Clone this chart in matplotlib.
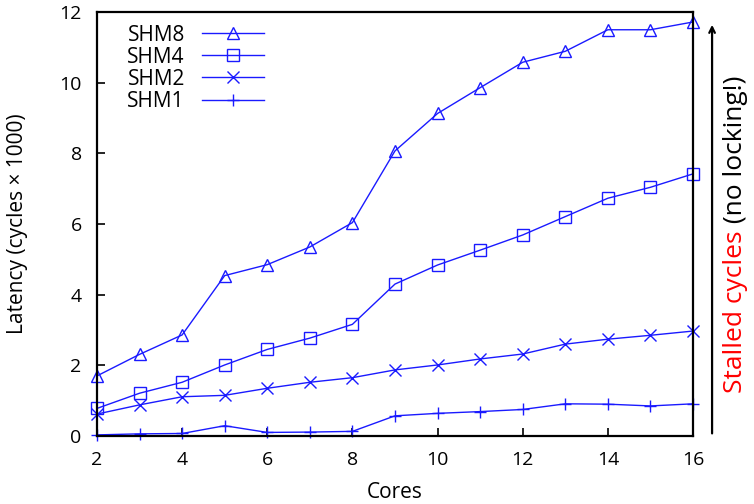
import matplotlib
matplotlib.use('Agg')
import matplotlib.pyplot as plt

plt.rcParams['font.family'] = ['Open Sans', 'DejaVu Sans']

# Data
cores = [2, 3, 4, 5, 6, 7, 8, 9, 10, 11, 12, 13, 14, 15, 16]
shm8 = [1.70, 2.31, 2.86, 4.54, 4.85, 5.35, 6.04, 8.07, 9.13, 9.86, 10.58, 10.89, 11.50, 11.50, 11.72]
shm4 = [0.78, 1.21, 1.52, 2.01, 2.45, 2.77, 3.16, 4.30, 4.84, 5.26, 5.69, 6.21, 6.73, 7.04, 7.42]
shm2 = [0.62, 0.88, 1.11, 1.15, 1.35, 1.52, 1.65, 1.87, 2.01, 2.18, 2.32, 2.60, 2.74, 2.85, 2.97]
shm1 = [0.03, 0.06, 0.07, 0.29, 0.10, 0.11, 0.13, 0.57, 0.64, 0.69, 0.75, 0.91, 0.90, 0.85, 0.91]

series = [('SHM8', shm8, '^'), ('SHM4', shm4, 's'), ('SHM2', shm2, 'x'), ('SHM1', shm1, '+')]
blue = '#1a1aff'

fig = plt.figure(figsize=(7.54, 5.04), dpi=100)
ax = fig.add_axes([0.1286, 0.135, 0.7905, 0.841])

for name, vals, m in series:
    ax.plot(cores, vals, color=blue, lw=1.0, marker=m, markersize=9,
            markerfacecolor='none', markeredgecolor=blue, markeredgewidth=1.0,
            label=name, clip_on=False)

ax.set_xlim(2, 16)
ax.set_ylim(0, 12)
ax.set_xticks(range(2, 17, 2))
ax.set_yticks(range(0, 13, 2))
ax.tick_params(direction='in', length=6, width=1.2, labelsize=14)
ax.tick_params(axis='x', pad=11)
ax.tick_params(axis='y', pad=11)
for s in ax.spines.values():
    s.set_linewidth(1.6)

ax.set_xlabel('Cores', fontsize=15)
ax.set_ylabel('Latency (cycles × 1000)', fontsize=15)
ax.xaxis.set_label_coords(0.5, -0.108)
ax.yaxis.set_label_coords(-0.115, 0.5)

leg = ax.legend(loc='upper left', bbox_to_anchor=(0.037, 0.99), frameon=False,
                markerfirst=False, fontsize=15, handlelength=3.0,
                labelspacing=0.05, handletextpad=0.8, borderaxespad=0)
for t in leg.get_texts():
    t.set_ha('right')

# arrow and side note
ax.annotate('', xy=(1.032, 0.97), xytext=(1.032, 0.006), xycoords='axes fraction',
            arrowprops=dict(arrowstyle='->', lw=1.6, color='black',
                            shrinkA=0, shrinkB=0))
red = fig.text(0.975, 1 - 393 / 504, 'Stalled cycles', color='red', rotation=90,
               ha='center', va='bottom', fontsize=19)
ax.annotate(' (no locking!)', xy=(0.5, 1.0), xycoords=red, color='black',
            rotation=90, ha='center', va='bottom', fontsize=19,
            annotation_clip=False)

plt.savefig('out.png', dpi=100)
